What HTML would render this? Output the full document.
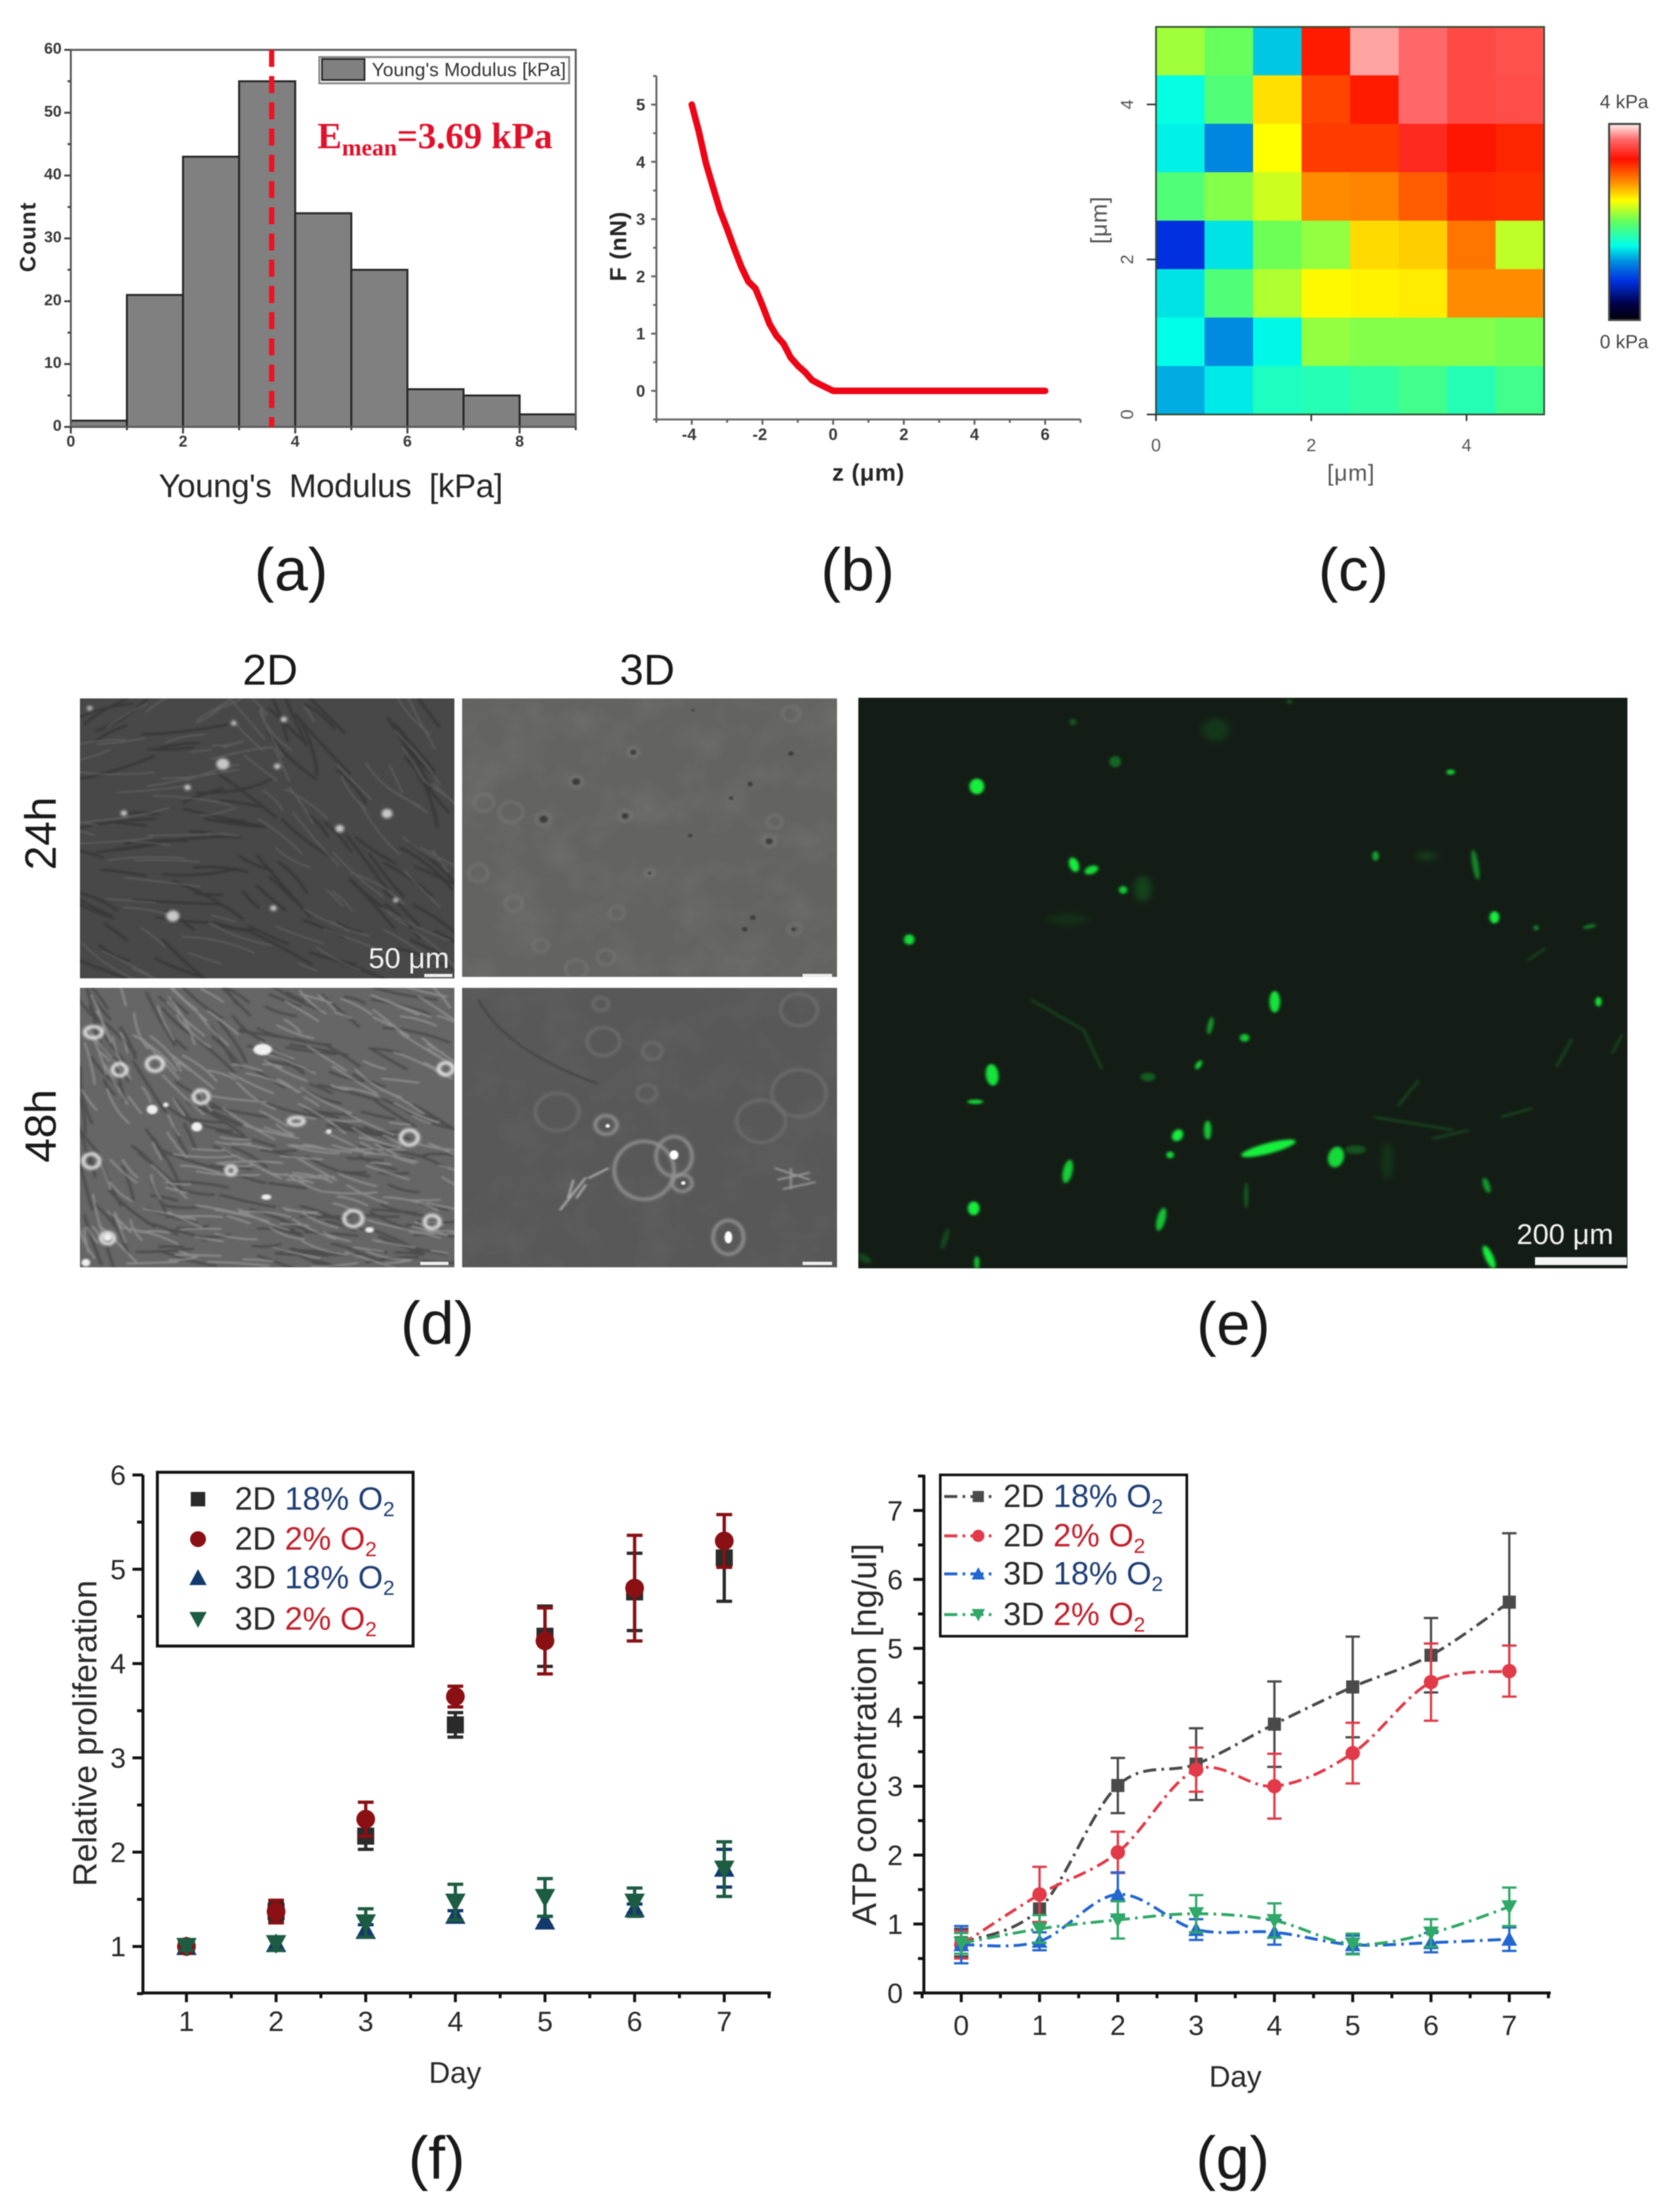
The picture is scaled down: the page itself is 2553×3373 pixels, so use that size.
<!DOCTYPE html>
<html lang="en">
<head>
<meta charset="utf-8">
<title>Cell mechanics and proliferation figure</title>
<style>
html,body{margin:0;padding:0;background:#fff;width:2553px;height:3373px;overflow:hidden}
svg{display:block;filter:blur(.7px)}
text{font-family:"Liberation Sans",sans-serif}
.plabel{font-size:92px;fill:#1a1a1a;text-anchor:middle}
.serif{font-family:"Liberation Serif",serif}
</style>
</head>
<body>
<svg id="root" xmlns="http://www.w3.org/2000/svg" width="2553" height="3373" viewBox="0 0 2553 3373">
<defs>
  <clipPath id="clipTL"><rect x="147" y="147" width="689" height="598"/></clipPath>
  <clipPath id="clipTR"><rect x="850" y="147" width="690" height="595"/></clipPath>
  <clipPath id="clipBL"><rect x="147" y="765" width="689" height="597"/></clipPath>
  <clipPath id="clipBR"><rect x="850" y="765" width="690" height="597"/></clipPath>
  <clipPath id="clipE"><rect x="24" y="36" width="1457" height="1313"/></clipPath>
  <filter id="mottle" x="0" y="0" width="100%" height="100%">
    <feTurbulence type="fractalNoise" baseFrequency="0.012" numOctaves="3" seed="4"/>
    <feColorMatrix type="matrix" values="0 0 0 0 0.55  0 0 0 0 0.55  0 0 0 0 0.55  1.6 0 0 0 -0.62"/>
  </filter>
  <filter id="soft1" x="-10%" y="-10%" width="120%" height="120%"><feGaussianBlur stdDeviation="1.2"/></filter>
  <filter id="soft2" x="-10%" y="-10%" width="120%" height="120%"><feGaussianBlur stdDeviation="2"/></filter>
  <filter id="soft3" x="-60%" y="-60%" width="220%" height="220%"><feGaussianBlur stdDeviation="3"/></filter>
  <filter id="soft8" x="-80%" y="-80%" width="260%" height="260%"><feGaussianBlur stdDeviation="7"/></filter>
  <linearGradient id="cbGrad" x1="0" y1="1" x2="0" y2="0"></linearGradient>
</defs>
<rect width="2553" height="3373" fill="#fff"/>

<g id="panelA"></g>
<g id="panelB"></g>
<g id="panelC"></g>

<text class="plabel" x="444" y="900">(a)</text>
<text class="plabel" x="1308" y="900">(b)</text>
<text class="plabel" x="2064" y="900">(c)</text>

<g id="panelD">
  <g transform="translate(0,960) scale(0.829,0.714)">
    <g id="photoTL" clip-path="url(#clipTL)"></g>
    <g id="photoTR" clip-path="url(#clipTR)"></g>
    <g id="photoBL" clip-path="url(#clipBL)"></g>
    <g id="photoBR" clip-path="url(#clipBR)"></g>
  </g>
  <text x="412" y="1044" font-size="66" text-anchor="middle" fill="#1a1a1a">2D</text>
  <text x="987" y="1044" font-size="66" text-anchor="middle" fill="#1a1a1a">3D</text>
  <text transform="translate(85,1271) rotate(-90)" font-size="67" text-anchor="middle" fill="#1a1a1a">24h</text>
  <text transform="translate(85,1717) rotate(-90)" font-size="67" text-anchor="middle" fill="#1a1a1a">48h</text>
  <text x="562" y="1476" font-size="44" fill="#f2f2f2">50 μm</text>
  <rect x="647" y="1485" width="43" height="5" fill="#eee"/>
  <rect x="1224" y="1485" width="45" height="5" fill="#eee"/>
  <rect x="641" y="1924" width="43" height="5" fill="#eee"/>
  <rect x="1224" y="1924" width="45" height="5" fill="#eee"/>
</g>
<text class="plabel" x="667" y="2049">(d)</text>

<g id="panelE">
  <rect x="1309" y="1064" width="1173" height="870" fill="#141d15"/>
  <g id="photoE" transform="translate(1290,1040) scale(0.8055,0.6633)" clip-path="url(#clipE)"></g>
  <text x="2313" y="1897" font-size="44" fill="#f2f2f2">200 μm</text>
  <rect x="2341" y="1917" width="140" height="12" fill="#f4f4f4"/>
</g>
<text class="plabel" x="1881" y="2050">(e)</text>

<g id="panelF"></g>
<g id="panelG"></g>
<text class="plabel" x="666" y="3322">(f)</text>
<text class="plabel" x="1880" y="3322">(g)</text>
</svg>

<script>
/* ---------- panel (a) data ---------- */
const aBinCounts = [1, 21, 43, 55, 34, 25, 6, 5, 2];
const aXTicks = [0, 2, 4, 6, 8];
const aYTicks = [0, 10, 20, 30, 40, 50, 60];
const aMeanLine = 3.58;
const aMeanLabel = '=3.69 kPa';

/* ---------- panel (b) data ---------- */
const bZ = [-4, -3.8, -3.6, -3.4, -3.2, -3, -2.8, -2.6, -2.4, -2.2, -2, -1.8, -1.6, -1.4, -1.2, -1, -0.8, -0.6, -0.4, -0.2, 0, 1, 2, 3, 4, 5, 6];
const bF = [5, 4.53, 3.98, 3.56, 3.15, 2.83, 2.49, 2.17, 1.91, 1.79, 1.49, 1.17, 0.96, 0.82, 0.58, 0.44, 0.33, 0.19, 0.12, 0.06, 0, 0, 0, 0, 0, 0, 0];
const bXTicks = [-4, -2, 0, 2, 4, 6];
const bYTicks = [0, 1, 2, 3, 4, 5];

/* ---------- panel (c) data: kPa, rows listed top to bottom ---------- */
const cMap = [
  [2.18, 2.02, 1.36, 3.24, 3.82, 3.68, 3.54, 3.58],
  [1.54, 1.92, 2.54, 3.08, 3.24, 3.68, 3.54, 3.56],
  [1.48, 1.16, 2.44, 3.12, 3.12, 3.40, 3.26, 3.20],
  [1.92, 2.10, 2.30, 2.82, 2.84, 3.00, 3.18, 3.16],
  [0.80, 1.44, 2.04, 2.14, 2.56, 2.60, 2.90, 2.26],
  [1.44, 1.92, 2.22, 2.46, 2.48, 2.50, 2.82, 2.82],
  [1.52, 1.18, 1.50, 2.14, 2.10, 2.10, 2.10, 2.06],
  [1.28, 1.46, 1.66, 1.70, 1.76, 1.84, 1.70, 1.84]
];
const cTicks = [0, 2, 4];

/* ---------- panel (f) data ---------- */
const fDays = [1, 2, 3, 4, 5, 6, 7];
const f2D18 = [1.00, 1.37, 2.17, 3.35, 4.29, 4.76, 5.12];
const f2D18Err = [0.03, 0.10, 0.14, 0.13, 0.32, 0.41, 0.46];
const f2D2 = [1.00, 1.37, 2.35, 3.65, 4.24, 4.80, 5.30];
const f2D2Err = [0.04, 0.12, 0.18, 0.11, 0.35, 0.56, 0.28];
const f3D18 = [1.00, 1.03, 1.17, 1.33, 1.27, 1.40, 1.83];
const f3D18Err = [0.03, 0.06, 0.06, 0.05, 0.05, 0.05, 0.20];
const f3D2 = [1.00, 1.03, 1.25, 1.47, 1.52, 1.47, 1.82];
const f3D2Err = [0.04, 0.07, 0.15, 0.19, 0.20, 0.15, 0.29];
const fXTicks = [1, 2, 3, 4, 5, 6, 7];
const fYTicks = [1, 2, 3, 4, 5, 6];

/* ---------- panel (g) data ---------- */
const gDays = [0, 1, 2, 3, 4, 5, 6, 7];
const g2D18 = [0.73, 1.22, 3.01, 3.32, 3.90, 4.44, 4.90, 5.67];
const g2D18Err = [0.20, 0.20, 0.40, 0.52, 0.62, 0.73, 0.54, 1.00];
const g2D2 = [0.70, 1.43, 2.04, 3.24, 3.00, 3.48, 4.51, 4.67];
const g2D2Err = [0.20, 0.40, 0.30, 0.32, 0.47, 0.44, 0.56, 0.37];
const g3D18 = [0.70, 0.75, 1.43, 0.92, 0.88, 0.70, 0.73, 0.78];
const g3D18Err = [0.27, 0.13, 0.32, 0.15, 0.18, 0.13, 0.14, 0.17];
const g3D2 = [0.72, 0.93, 1.06, 1.15, 1.05, 0.71, 0.87, 1.25];
const g3D2Err = [0.15, 0.20, 0.27, 0.27, 0.25, 0.15, 0.20, 0.28];
const gXTicks = [0, 1, 2, 3, 4, 5, 6, 7];
const gYTicks = [0, 1, 2, 3, 4, 5, 6, 7];

/* ---------- helpers ---------- */
const NS = 'http://www.w3.org/2000/svg';
function mk(tag, attrs, parent) {
  const el = document.createElementNS(NS, tag);
  for (const k in attrs) el.setAttribute(k, attrs[k]);
  if (parent) parent.appendChild(el);
  return el;
}
function txt(parent, s, attrs) {
  const el = mk('text', attrs, parent);
  el.textContent = s;
  return el;
}
function marker(parent, shape, x, y, s, color) {
  let el;
  if (shape === 'square') el = mk('rect', {x: x - s, y: y - s, width: 2 * s, height: 2 * s, fill: color}, parent);
  else if (shape === 'circle') el = mk('circle', {cx: x, cy: y, r: s * 1.1, fill: color}, parent);
  else if (shape === 'up') el = mk('polygon', {points: `${x - s * 1.2},${y + s} ${x + s * 1.2},${y + s} ${x},${y - s * 1.2}`, fill: color}, parent);
  else el = mk('polygon', {points: `${x - s * 1.2},${y - s} ${x + s * 1.2},${y - s} ${x},${y + s * 1.2}`, fill: color}, parent);
  return el;
}
function errorBar(parent, x, yLo, yHi, cap, w, color) {
  const d = `M${x} ${yLo}V${yHi}M${x - cap} ${yLo}H${x + cap}M${x - cap} ${yHi}H${x + cap}`;
  return mk('path', {d: d, stroke: color, 'stroke-width': w, fill: 'none'}, parent);
}
function legendText(parent, x, y, size, dim, pct, color) {
  const t = mk('text', {x: x, y: y, 'font-size': size, fill: '#2a2a2a'}, parent);
  const a = mk('tspan', {}, t); a.textContent = dim + ' ';
  const b = mk('tspan', {fill: color}, t); b.textContent = pct + ' O';
  const c = mk('tspan', {fill: color, 'font-size': size * 0.65, dy: size * 0.2}, t); c.textContent = '2';
  return t;
}

/* ---------- panel (a) ---------- */
(function () {
  const g = document.getElementById('panelA');
  const xA = v => 108 + v * 85.56;
  const yA = v => 651 - v * 9.583;
  aBinCounts.forEach((c, i) => {
    const bar = mk('rect', {x: xA(i), y: yA(c), width: xA(i + 1) - xA(i), height: yA(0) - yA(c), fill: '#808080', stroke: '#262626', 'stroke-width': 3}, g);
    
    
  });
  const frame = mk('rect', {x: xA(0), y: yA(60), width: xA(9) - xA(0), height: yA(0) - yA(60), fill: 'none', stroke: '#5a5a5a', 'stroke-width': 3}, g);
  
  
  let d = '';
  for (let v = 0; v <= 60; v += 5) d += `M${xA(0)} ${yA(v)}h${v % 10 === 0 ? -10 : -5}`;
  for (let v = 0; v <= 9; v += 1) d += `M${xA(v)} ${yA(0)}v${v % 2 === 0 ? 10 : 5}`;
  const ticks = mk('path', {d: d, stroke: '#444', 'stroke-width': 3, fill: 'none'}, g);
  
  
  aYTicks.forEach(v => {
    const t = txt(g, String(v), {x: 94, y: yA(v) + 6, 'font-size': 24, 'font-weight': 'bold', fill: '#3a3a3a', 'text-anchor': 'end'});
    
    
  });
  aXTicks.forEach(v => {
    const t = txt(g, String(v), {x: xA(v), y: 681, 'font-size': 24, 'font-weight': 'bold', fill: '#3a3a3a', 'text-anchor': 'middle'});
    
    
  });
  const mean = mk('line', {x1: xA(aMeanLine), x2: xA(aMeanLine), y1: yA(60), y2: yA(0), stroke: '#ee1122', 'stroke-width': 8, 'stroke-dasharray': '26 14'}, g);
  
  
  const yt = txt(g, 'Count', {transform: 'translate(54,362) rotate(-90)', 'font-size': 34, 'font-weight': 'bold', fill: '#262626', 'text-anchor': 'middle', textLength: 106});
  
  
  const xt = txt(g, "Young's  Modulus  [kPa]", {x: 242, y: 758, 'font-size': 50, fill: '#262626', textLength: 525, style: 'white-space:pre'});
  
  
  const lb = mk('rect', {x: 487, y: 87, width: 381, height: 40, fill: '#fff', stroke: '#888', 'stroke-width': 3}, g);
  
  
  const ls = mk('rect', {x: 491, y: 90, width: 65, height: 32, fill: '#808080', stroke: '#222', 'stroke-width': 2.5}, g);
  
  
  const lt = txt(g, "Young's Modulus [kPa]", {x: 567, y: 116, 'font-size': 29, fill: '#333', textLength: 296});
  
  
  const em = mk('text', {x: 484, y: 226, class: 'serif', 'font-size': 56, 'font-weight': 'bold', fill: '#e3102a'}, g);
  
  
  const e1 = mk('tspan', {}, em); e1.textContent = 'E';
  const e2 = mk('tspan', {'font-size': 36, dy: 11}, em); e2.textContent = 'mean';
  const e3 = mk('tspan', {dy: -11}, em); e3.textContent = aMeanLabel;
})();

/* ---------- panel (b) ---------- */
(function () {
  const g = document.getElementById('panelB');
  const xB = v => 1055 + (v + 4) * 53.9;
  const yB = v => 596 - v * 87.3;
  let d = `M${xB(-5)} ${yB(5.5)}V${yB(-0.5)}H${xB(7)}`;
  for (let v = -5; v <= 7; v += 1) d += `M${xB(v)} ${yB(-0.5)}v${v % 2 === 0 ? 8 : 5}`;
  for (let v = -0.5; v <= 5.5; v += 0.5) d += `M${xB(-5)} ${yB(v)}h${Number.isInteger(v) ? -8 : -5}`;
  const ax = mk('path', {d: d, stroke: '#666', 'stroke-width': 3, fill: 'none'}, g);
  
  
  bXTicks.forEach(v => {
    const t = txt(g, String(v), {x: xB(v) - (v < 0 ? 4 : 0), y: 671, 'font-size': 25, 'font-weight': 'bold', fill: '#3a3a3a', 'text-anchor': 'middle'});
    
    
  });
  bYTicks.forEach(v => {
    const t = txt(g, String(v), {x: 984, y: yB(v) + 9, 'font-size': 25, 'font-weight': 'bold', fill: '#3a3a3a', 'text-anchor': 'end'});
    
    
  });
  const pts = bZ.map((z, i) => `${xB(z)},${yB(bF[i])}`).join(' ');
  const curve = mk('polyline', {points: pts, fill: 'none', stroke: '#ee0616', 'stroke-width': 10, 'stroke-linejoin': 'round', 'stroke-linecap': 'round'}, g);
  
  
  const yt = txt(g, 'F (nN)', {transform: 'translate(955,376) rotate(-90)', 'font-size': 35, 'font-weight': 'bold', fill: '#262626', 'text-anchor': 'middle', textLength: 106});
  
  
  const xt = txt(g, 'z (μm)', {x: 1269, y: 733, 'font-size': 36, 'font-weight': 'bold', fill: '#262626', textLength: 110});
  
  
})();

/* ---------- panel (c) ---------- */
const cStopsT = [0, 0.08, 0.2, 0.3, 0.38, 0.5, 0.61, 0.7, 0.82, 0.92, 1];
const cStopsC = [[0,0,10],[0,0,70],[0,48,224],[0,144,224],[0,255,232],[96,255,96],[255,255,0],[255,144,0],[255,16,0],[255,104,104],[255,240,240]];
function cColor(kpa) {
  const t = Math.max(0, Math.min(1, kpa / 4));
  let i = 0;
  while (i < cStopsT.length - 2 && t > cStopsT[i + 1]) i++;
  const f = (t - cStopsT[i]) / (cStopsT[i + 1] - cStopsT[i]);
  const c = cStopsC[i].map((v, k) => Math.round(v + (cStopsC[i + 1][k] - v) * f));
  return `rgb(${c[0]},${c[1]},${c[2]})`;
}
(function () {
  const g = document.getElementById('panelC');
  const xH = v => 1763 + v * 118.4;
  const yH = v => 632 - v * 118.2;
  const cell = 5 / 8;
  cMap.forEach((row, r) => row.forEach((val, c) => {
    const rc = mk('rect', {x: xH(c * cell), y: yH(5 - r * cell), width: xH(cell) - xH(0) + 0.5, height: yH(0) - yH(cell) + 0.5, fill: cColor(val)}, g);
    
    
  }));
  const fr = mk('rect', {x: xH(0), y: yH(5), width: xH(5) - xH(0), height: yH(0) - yH(5), fill: 'none', stroke: '#2e4a30', 'stroke-width': 2.5}, g);
  
  
  let d = '';
  cTicks.forEach(v => { d += `M${xH(v)} ${yH(0)}v10M${xH(0)} ${yH(v)}h-14`; });
  const ticks = mk('path', {d: d, stroke: '#333', 'stroke-width': 2.5, fill: 'none'}, g);
  
  
  cTicks.forEach(v => {
    const t = txt(g, String(v), {x: xH(v), y: 688, 'font-size': 27, fill: '#555', 'text-anchor': 'middle'});
    
    
    const u = txt(g, String(v), {transform: `translate(1728,${yH(v)}) rotate(-90)`, 'font-size': 27, fill: '#555', 'text-anchor': 'middle'});
    
    
  });
  const xt = txt(g, '[μm]', {x: 2024, y: 733, 'font-size': 35, fill: '#555', textLength: 72});
  
  
  const yt = txt(g, '[μm]', {transform: 'translate(1688,336) rotate(-90)', 'font-size': 35, fill: '#555', 'text-anchor': 'middle', textLength: 72});
  
  
  const grad = document.getElementById('cbGrad');
  cStopsT.forEach((t, i) => {
    const c = cStopsC[i];
    mk('stop', {offset: t, 'stop-color': `rgb(${c[0]},${c[1]},${c[2]})`}, grad);
  });
  const cb = mk('rect', {x: 2454, y: 189, width: 47, height: 299, fill: 'url(#cbGrad)', stroke: '#444', 'stroke-width': 3}, g);
  
  
  const c1 = txt(g, '4 kPa', {x: 2477, y: 165, 'font-size': 29, fill: '#444', 'text-anchor': 'middle'});
  
  
  const c0 = txt(g, '0 kPa', {x: 2477, y: 531, 'font-size': 29, fill: '#444', 'text-anchor': 'middle'});
  
  
})();

/* ---------- panel (d) textures ---------- */
(function () {
  let seed = 12345;
  const rnd = () => { seed = (seed * 16807) % 2147483647; return seed / 2147483647; };
  function fibers(box, n, angleFn, lenMin, lenMax) {
    let d = '';
    for (let i = 0; i < n; i++) {
      const x = box[0] + rnd() * box[2], y = box[1] + rnd() * box[3];
      const a = angleFn(x, y) + (rnd() - 0.5) * 0.6;
      const l = lenMin + rnd() * (lenMax - lenMin);
      const dx = Math.cos(a) * l / 2, dy = Math.sin(a) * l / 2;
      const bx = (rnd() - 0.5) * l * 0.25, by = (rnd() - 0.5) * l * 0.25;
      d += `M${(x - dx).toFixed(1)} ${(y - dy).toFixed(1)}Q${(x + bx).toFixed(1)} ${(y + by).toFixed(1)} ${(x + dx).toFixed(1)} ${(y + dy).toFixed(1)}`;
    }
    return d;
  }
  function spots(parent, list, color, filter) {
    list.forEach(s => {
      mk('ellipse', {cx: s[0], cy: s[1], rx: s[2], ry: s[3] || s[2], fill: color, filter: filter}, parent);
    });
  }
  function rings(parent, list, color, w) {
    list.forEach(s => {
      mk('ellipse', {cx: s[0], cy: s[1], rx: s[2], ry: s[3] || s[2], fill: 'none', stroke: color, 'stroke-width': w, filter: 'url(#soft3)'}, parent);
    });
  }
  /* 24h 2D */
  const tl = document.getElementById('photoTL');
  mk('rect', {x: 147, y: 147, width: 689, height: 598, fill: '#484848'}, tl);
  const tlA = (x, y) => (x < 450 ? -0.55 + (y - 150) * 0.002 : 1.1 - (y - 150) * 0.001);
  mk('path', {d: fibers([147, 147, 689, 598], 90, tlA, 50, 170), stroke: '#2e2e2e', 'stroke-width': 5, fill: 'none', opacity: 0.6, filter: 'url(#soft2)'}, tl);
  mk('path', {d: fibers([147, 147, 689, 598], 85, tlA, 40, 150), stroke: '#6c6c6c', 'stroke-width': 3.5, fill: 'none', opacity: 0.6, filter: 'url(#soft2)'}, tl);
  spots(tl, [[410, 287, 12], [318, 612, 12], [228, 392, 6], [522, 192, 6], [510, 292, 6], [503, 595, 6], [728, 578, 5], [165, 168, 5], [625, 425, 8], [712, 393, 10], [345, 337, 6], [430, 200, 5]], '#c8c8c8', 'url(#soft3)');
  /* 24h 3D */
  const tr = document.getElementById('photoTR');
  mk('rect', {x: 850, y: 147, width: 690, height: 595, fill: '#636361'}, tr);
  mk('rect', {x: 850, y: 147, width: 690, height: 595, filter: 'url(#mottle)', opacity: 0.12}, tr);
  rings(tr, [[890, 370, 18], [940, 390, 22], [1000, 405, 14], [1060, 325, 12], [1150, 398, 12], [1165, 262, 10], [1195, 520, 8], [945, 585, 16], [1135, 605, 14], [995, 675, 14], [1115, 700, 16], [1060, 725, 20], [1425, 410, 14], [1415, 452, 12], [1455, 180, 16], [880, 520, 18], [1462, 640, 12]], '#7c7c78', 3);
  spots(tr, [[1060, 325, 7], [1150, 398, 6], [1000, 405, 7], [1165, 262, 5], [1345, 360, 4], [1380, 330, 5], [1270, 440, 4], [1385, 615, 5], [1370, 640, 5], [1460, 640, 4], [1455, 265, 5], [1275, 172, 3], [1415, 452, 6], [1195, 520, 3]], '#3a3a38', 'url(#soft2)');
  /* 48h 2D */
  const bl = document.getElementById('photoBL');
  mk('rect', {x: 147, y: 765, width: 689, height: 597, fill: '#666'}, bl);
  const blA = (x, y) => (x + (y - 765) * 0.4 < 480 ? 1.15 - (x - 147) * 0.0012 : 0.35 - (y - 1050) * 0.0006);
  mk('path', {d: fibers([147, 765, 689, 597], 170, blA, 40, 130), stroke: '#383838', 'stroke-width': 5, fill: 'none', opacity: 0.55, filter: 'url(#soft2)'}, bl);
  mk('path', {d: fibers([147, 765, 689, 597], 200, blA, 30, 120), stroke: '#a8a8a8', 'stroke-width': 4, fill: 'none', opacity: 0.6, filter: 'url(#soft2)'}, bl);
  rings(bl, [[172, 860, 16, 12], [220, 940, 13], [285, 928, 15], [370, 998, 14], [753, 1085, 16], [168, 1135, 15], [820, 938, 13], [650, 1258, 17], [795, 1265, 14], [198, 1300, 12], [425, 1155, 9], [545, 1050, 14, 8]], '#e6e6e6', 7);
  spots(bl, [[483, 897, 17, 12], [280, 1025, 10], [362, 1062, 10], [305, 1015, 5], [490, 1212, 9, 6], [605, 1072, 5], [680, 1282, 8, 6], [158, 1352, 8], [198, 1298, 8]], '#f0f0f0', 'url(#soft2)');
  /* 48h 3D */
  const br = document.getElementById('photoBR');
  mk('rect', {x: 850, y: 765, width: 690, height: 597, fill: '#585858'}, br);
  mk('rect', {x: 850, y: 765, width: 690, height: 597, filter: 'url(#mottle)', opacity: 0.08}, br);
  mk('path', {d: 'M880 790Q930 900 1100 970', stroke: '#444', 'stroke-width': 4, fill: 'none', filter: 'url(#soft2)'}, br);
  rings(br, [[1025, 1030, 40], [1400, 1050, 45], [1470, 990, 50], [1470, 812, 34], [1105, 800, 14], [1200, 900, 18], [1110, 880, 30], [1190, 990, 18]], '#707070', 5);
  rings(br, [[1185, 1155, 55, 62], [1240, 1125, 33, 42], [1115, 1058, 20], [1255, 1182, 18], [1340, 1298, 28, 36]], '#949494', 6);
  spots(br, [[1240, 1122, 8, 10], [1340, 1298, 7, 13], [1118, 1060, 4], [1257, 1182, 4]], '#ffffff', 'url(#soft1)');
  mk('path', {d: 'M1030 1240L1078 1170M1045 1215L1055 1175M1060 1215L1078 1185M1082 1172L1120 1150', stroke: '#b0b0b0', 'stroke-width': 4, fill: 'none', filter: 'url(#soft2)'}, br);
  mk('path', {d: 'M1425 1150L1490 1175M1430 1175L1490 1160M1440 1195L1500 1180M1455 1150V1195', stroke: '#969696', 'stroke-width': 4, fill: 'none', filter: 'url(#soft2)'}, br);
})();

/* ---------- panel (e) cells ---------- */
(function () {
  const g = document.getElementById('photoE');
  const cells = [
    [248,240,14,18,0,1],[430,92,7,8,0,.25],[510,183,11,13,0,.35],[700,110,26,26,0,.12],[840,45,5,6,0,.25],[1145,207,8,6,0,.85],
    [432,420,9,17,-15,1],[465,432,14,9,-30,.9],[525,478,8,9,0,.8],[562,475,16,30,0,.18],[120,592,10,12,0,.9],[420,545,40,14,0,.08],
    [1003,400,6,11,0,.65],[1100,400,20,10,0,.15],[1192,420,6,35,-8,.5],[1228,541,9,14,0,1],[1307,565,5,6,0,.5],[1408,562,13,4,-15,.5],
    [812,735,10,25,0,.95],[690,790,5,20,10,.6],[755,818,9,9,0,.8],[1425,735,6,11,0,.95],[668,880,5,11,25,.9],[277,903,12,25,-5,.95],
    [245,965,15,5,0,.9],[572,908,14,10,0,.3],[628,1042,10,14,20,1],[685,1030,7,22,0,.8],[614,1087,7,8,0,.9],[800,1072,54,12,-18,1],
    [928,1092,15,24,10,.9],[965,1075,20,10,0,.25],[420,1125,9,27,10,.85],[242,1210,11,16,0,1],[597,1235,8,27,12,.8],[758,1180,4,30,0,.3],
    [1213,1157,6,18,-15,.6],[1218,1322,8,28,-20,1],[248,1335,5,15,0,.8],[188,1280,6,25,15,.2],[35,1325,15,8,40,.2],[1025,1100,10,45,0,.12]
  ];
  cells.forEach(c => {
    mk('ellipse', {cx: c[0], cy: c[1], rx: c[2], ry: c[3], transform: `rotate(${c[4]} ${c[0]} ${c[1]})`, fill: '#14f03c', opacity: c[5], filter: c[5] < 0.2 ? 'url(#soft8)' : 'url(#soft3)'}, g);
  });
  mk('path', {d: 'M350 730L450 800L485 890M1345 885L1375 820M1045 975L1085 915M1240 1000L1300 980M1110 1050L1180 1030M1290 640L1325 612M1450 855L1470 810M1000 1000L1150 1030', stroke: '#1f7a30', 'stroke-width': 6, fill: 'none', opacity: 0.4, filter: 'url(#soft3)'}, g);
})();

/* ---------- panel (f) ---------- */
(function () {
  const g = document.getElementById('panelF');
  const xF = v => 216 + (v - 0.5) * 136.7;
  const yF = v => 3040 - (v - 0.5) * 143.8;
  let d = `M218 ${yF(6)}V3039H${xF(7.52)}`;
  for (let v = 0.5; v <= 6; v += 0.5) d += `M218 ${yF(v)}h${Number.isInteger(v) ? -16 : -9}`;
  for (let v = 1; v <= 7.5; v += 0.5) d += `M${xF(v)} 3039v${Number.isInteger(v) ? 14 : 8}`;
  const ax = mk('path', {d: d, stroke: '#111', 'stroke-width': 4.5, fill: 'none'}, g);
  
  
  fXTicks.forEach(v => {
    const t = txt(g, String(v), {x: xF(v), y: 3097, 'font-size': 43, fill: '#2a2a2a', 'text-anchor': 'middle'});
    
    
  });
  fYTicks.forEach(v => {
    const t = txt(g, String(v), {x: 192, y: yF(v) + 15, 'font-size': 43, fill: '#2a2a2a', 'text-anchor': 'end'});
    
    
  });
  const xt = txt(g, 'Day', {x: 694, y: 3176, 'font-size': 45, fill: '#2a2a2a', 'text-anchor': 'middle'});
  
  
  const yt = txt(g, 'Relative proliferation', {transform: 'translate(147,2643) rotate(-90)', 'font-size': 51, fill: '#2a2a2a', 'text-anchor': 'middle', textLength: 467});
  
  

  const fSeries = [
    {vals: f2D18, errs: f2D18Err, shape: 'square', color: '#2b2b2b'},
    {vals: f3D18, errs: f3D18Err, shape: 'up', color: '#123a6c'},
    {vals: f2D2, errs: f2D2Err, shape: 'circle', color: '#8a1014'},
    {vals: f3D2, errs: f3D2Err, shape: 'down', color: '#1c5c42'}
  ];
  fSeries.forEach(s => {
    s.vals.forEach((v, i) => {
      const e = errorBar(g, xF(fDays[i]), yF(v - s.errs[i]), yF(v + s.errs[i]), 12, 5, s.color);
      
      
      const m = marker(g, s.shape, xF(fDays[i]), yF(v), 13, s.color);
      
      
    });
  });

  const lb = mk('rect', {x: 240, y: 2245, width: 390, height: 265, fill: '#fff', stroke: '#111', 'stroke-width': 4.5}, g);
  
  
  const fLegend = [
    {dim: '2D', pct: '18%', tc: '#1f3f76', shape: 'square', color: '#2b2b2b', y: 2286},
    {dim: '2D', pct: '2%', tc: '#c4202c', shape: 'circle', color: '#8a1014', y: 2347},
    {dim: '3D', pct: '18%', tc: '#1f3f76', shape: 'up', color: '#123a6c', y: 2406},
    {dim: '3D', pct: '2%', tc: '#c4202c', shape: 'down', color: '#1c5c42', y: 2469}
  ];
  fLegend.forEach(l => {
    const m = marker(g, l.shape, 302, l.y, 11, l.color);
    
    
    const t = legendText(g, 358, l.y + 16, 49, l.dim, l.pct, l.tc);
    
    
  });
})();

/* ---------- panel (g) ---------- */
(function () {
  const g = document.getElementById('panelG');
  const xG = v => 1466 + v * 119.4;
  const yG = v => 3039 - v * 105.1;
  let d = `M1409 2249V3039H2365`;
  for (let v = 0; v <= 7.5; v += 0.5) d += `M1409 ${yG(v)}h${Number.isInteger(v) ? -16 : -9}`;
  for (let v = -0.5; v <= 7.5; v += 0.5) d += `M${xG(v)} 3039v${Number.isInteger(v) ? 14 : 8}`;
  const ax = mk('path', {d: d, stroke: '#111', 'stroke-width': 4.5, fill: 'none'}, g);
  
  
  gXTicks.forEach(v => {
    const t = txt(g, String(v), {x: xG(v), y: 3103, 'font-size': 43, fill: '#2a2a2a', 'text-anchor': 'middle'});
    
    
  });
  gYTicks.forEach(v => {
    const t = txt(g, String(v), {x: 1377, y: yG(v) + 15, 'font-size': 43, fill: '#2a2a2a', 'text-anchor': 'end'});
    
    
  });
  const xt = txt(g, 'Day', {x: 1884, y: 3182, 'font-size': 45, fill: '#2a2a2a', 'text-anchor': 'middle'});
  
  
  const yt = txt(g, 'ATP concentration [ng/ul]', {transform: 'translate(1336,2645) rotate(-90)', 'font-size': 52, fill: '#2a2a2a', 'text-anchor': 'middle', textLength: 583});
  
  

  function spline(vals) {
    const p = vals.map((v, i) => [xG(gDays[i]), yG(v)]);
    let s = `M${p[0][0]} ${p[0][1]}`;
    for (let i = 0; i < p.length - 1; i++) {
      const a = p[Math.max(i - 1, 0)], b = p[i], c = p[i + 1], e = p[Math.min(i + 2, p.length - 1)];
      s += `C${b[0] + (c[0] - a[0]) / 6} ${b[1] + (c[1] - a[1]) / 6} ${c[0] - (e[0] - b[0]) / 6} ${c[1] - (e[1] - b[1]) / 6} ${c[0]} ${c[1]}`;
    }
    return s;
  }
  const gSeries = [
    {vals: g2D18, errs: g2D18Err, shape: 'square', color: '#4a4a4a'},
    {vals: g2D2, errs: g2D2Err, shape: 'circle', color: '#e23a48'},
    {vals: g3D18, errs: g3D18Err, shape: 'up', color: '#2266d0'},
    {vals: g3D2, errs: g3D2Err, shape: 'down', color: '#2fa868'}
  ];
  gSeries.forEach(s => {
    s.vals.forEach((v, i) => {
      const e = errorBar(g, xG(gDays[i]), yG(v - s.errs[i]), yG(v + s.errs[i]), 11, 3.5, s.color);
      
      
    });
    const line = mk('path', {d: spline(s.vals), fill: 'none', stroke: s.color, 'stroke-width': 4.5, 'stroke-dasharray': '20 8 4 8'}, g);
    
    
    s.vals.forEach((v, i) => {
      const m = marker(g, s.shape, xG(gDays[i]), yG(v), 10, s.color);
      
      
    });
  });

  const lb = mk('rect', {x: 1434, y: 2249, width: 376, height: 246, fill: '#fff', stroke: '#111', 'stroke-width': 4}, g);
  
  
  const gLegend = [
    {dim: '2D', pct: '18%', tc: '#1f3f76', shape: 'square', color: '#4a4a4a', y: 2282},
    {dim: '2D', pct: '2%', tc: '#c4202c', shape: 'circle', color: '#e23a48', y: 2342},
    {dim: '3D', pct: '18%', tc: '#1f3f76', shape: 'up', color: '#2266d0', y: 2400},
    {dim: '3D', pct: '2%', tc: '#c4202c', shape: 'down', color: '#2fa868', y: 2462}
  ];
  gLegend.forEach(l => {
    const ln = mk('line', {x1: 1440, x2: 1514, y1: l.y, y2: l.y, stroke: l.color, 'stroke-width': 4.5, 'stroke-dasharray': '20 8 4 8'}, g);
    
    
    const m = marker(g, l.shape, 1492, l.y, 8.5, l.color);
    
    
    const t = legendText(g, 1530, l.y + 16, 49, l.dim, l.pct, l.tc);
    
    
  });
})();
</script>
</body>
</html>
